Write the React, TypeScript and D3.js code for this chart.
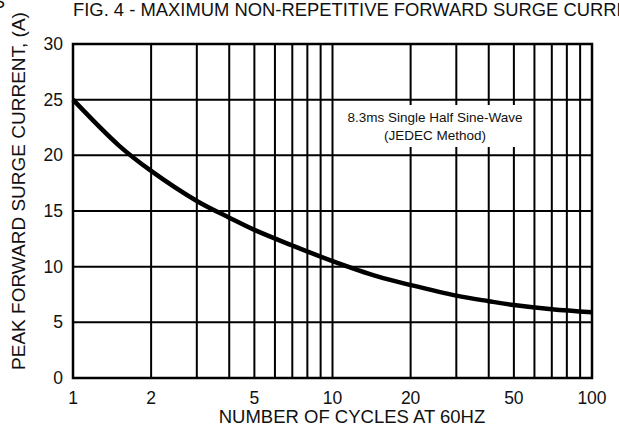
import React from "react";
import * as d3 from "d3";

const cycles = [1, 1.5, 2, 3, 4, 5, 7, 10, 15, 20, 30, 40, 50, 70, 100];
const current = [25, 20.9, 18.6, 15.9, 14.4, 13.3, 11.9, 10.5, 9.1, 8.35, 7.4, 6.9, 6.55, 6.17, 5.9];
const xGridValues = [2, 3, 4, 5, 6, 7, 8, 9, 10, 20, 30, 40, 50, 60, 70, 80, 90];
const xTickLabels = [1, 2, 5, 10, 20, 50, 100];
const yTicks = [0, 5, 10, 15, 20, 25, 30];

const title = "FIG. 4 - MAXIMUM NON-REPETITIVE FORWARD SURGE CURRENT";
const yLabel = "PEAK FORWARD SURGE CURRENT, (A)";
const xLabel = "NUMBER OF CYCLES AT 60HZ";
const noteLines = ["8.3ms Single Half Sine-Wave", "(JEDEC Method)"];

export default function App() {
  const left = 73;
  const right = 592;
  const top = 44;
  const bottom = 378;
  const font = "'Liberation Sans', Arial, sans-serif";
  const ink = "#111";

  const x = d3.scaleLog().domain([1, 100]).range([left, right]);
  const y = d3.scaleLinear().domain([0, 30]).range([bottom, top]);

  const line = d3
    .line<number>()
    .x((d, i) => x(cycles[i]))
    .y((d) => y(d))
    .curve(d3.curveCatmullRom.alpha(0.5));

  return (
    <svg
      width={619}
      height={430}
      style={{ position: "absolute", left: 0, top: 0, background: "#fff" }}
    >
      <rect width={619} height={430} fill="#fff" />
      <text x={5} y={8} fontFamily={font} fontSize={18.4} textAnchor="end" fill={ink}>
        S
      </text>
      <text x={left} y={16} fontFamily={font} fontSize={18.4} fill={ink}>
        {title}
      </text>

      {/* grid */}
      {yTicks.slice(1, -1).map((t) => (
        <line key={"h" + t} x1={left} x2={right} y1={y(t)} y2={y(t)} stroke="#000" strokeWidth={2} />
      ))}
      {xGridValues.map((v) => (
        <line key={"v" + v} x1={x(v)} x2={x(v)} y1={top} y2={bottom} stroke="#000" strokeWidth={2} />
      ))}

      {/* note box */}
      <rect x={x(10) + 2} y={105} width={x(55) - x(10)} height={42} fill="#fff" />
      {noteLines.map((t, i) => (
        <text
          key={t}
          x={435}
          y={122 + i * 18}
          fontFamily={font}
          fontSize={13.5}
          textAnchor="middle"
          fill={ink}
        >
          {t}
        </text>
      ))}

      <rect
        x={left}
        y={top}
        width={right - left}
        height={bottom - top}
        fill="none"
        stroke="#000"
        strokeWidth={2.5}
      />

      <path d={line(current) ?? ""} fill="none" stroke="#000" strokeWidth={4.5} />

      {yTicks.map((t) => (
        <text
          key={"yt" + t}
          x={left - 10}
          y={y(t) + 6}
          fontFamily={font}
          fontSize={17.5}
          textAnchor="end"
          fill={ink}
        >
          {t}
        </text>
      ))}
      {xTickLabels.map((t) => (
        <text
          key={"xt" + t}
          x={x(t)}
          y={bottom + 26}
          fontFamily={font}
          fontSize={17.5}
          textAnchor="middle"
          fill={ink}
        >
          {t}
        </text>
      ))}

      <text
        x={352}
        y={423}
        fontFamily={font}
        fontSize={18.5}
        textAnchor="middle"
        fill={ink}
      >
        {xLabel}
      </text>
      <text
        transform={`translate(25,191) rotate(-90)`}
        fontFamily={font}
        fontSize={19}
        textAnchor="middle"
        fill={ink}
      >
        {yLabel}
      </text>
    </svg>
  );
}
